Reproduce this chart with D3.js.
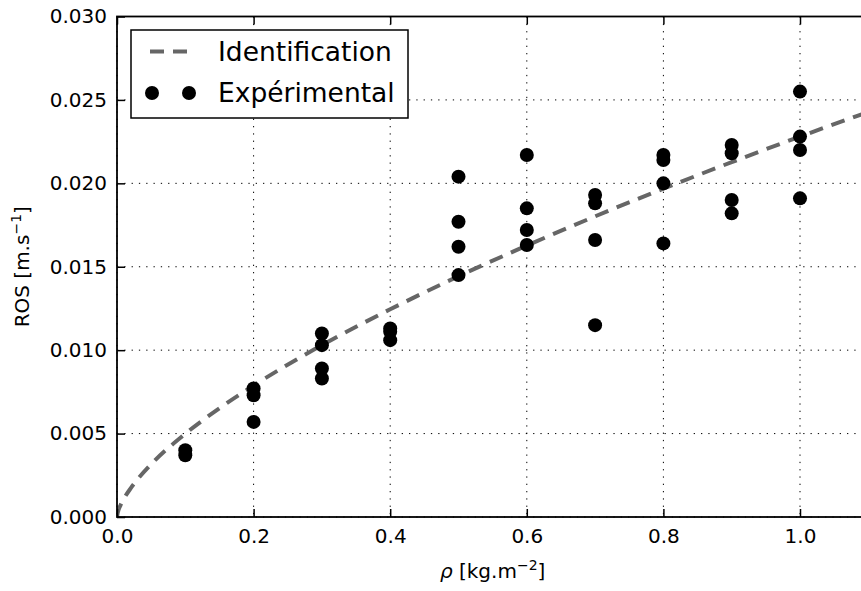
<!DOCTYPE html>
<html>
<head>
<meta charset="utf-8">
<script src="https://cdn.jsdelivr.net/npm/d3@7/dist/d3.min.js"></script>
<style>
  html, body { margin: 0; padding: 0; background: #fff; }
  svg { display: block; font-family: "DejaVu Sans", sans-serif; }
</style>
</head>
<body>
<svg id="chart" width="861" height="591"></svg>
<script>
// ---- data ----
const expX = [0.1, 0.1,
  0.2, 0.2, 0.2,
  0.3, 0.3, 0.3, 0.3,
  0.4, 0.4, 0.4,
  0.5, 0.5, 0.5, 0.5,
  0.6, 0.6, 0.6, 0.6,
  0.7, 0.7, 0.7, 0.7,
  0.8, 0.8, 0.8, 0.8,
  0.9, 0.9, 0.9, 0.9,
  1.0, 1.0, 1.0, 1.0];
const expY = [0.0040, 0.0037,
  0.0077, 0.0073, 0.0057,
  0.0110, 0.0103, 0.0089, 0.0083,
  0.0113, 0.0111, 0.0106,
  0.0204, 0.0177, 0.0162, 0.0145,
  0.0217, 0.0185, 0.0172, 0.0163,
  0.0193, 0.0188, 0.0166, 0.0115,
  0.0217, 0.0214, 0.0200, 0.0164,
  0.0223, 0.0218, 0.0190, 0.0182,
  0.0255, 0.0228, 0.0220, 0.0191];

const idX = [0, 0.001, 0.005, 0.01, 0.02, 0.03, 0.05, 0.1, 0.15, 0.2, 0.3, 0.4, 0.5, 0.6, 0.7, 0.8, 0.9, 1.0, 1.1, 1.2];
const idY = [0, 0.00024, 0.00069, 0.00109, 0.00172, 0.00225, 0.00316, 0.00499, 0.00652, 0.00788, 0.0103, 0.01245, 0.01443, 0.01627, 0.01802, 0.01968, 0.02127, 0.0228, 0.02428, 0.02572];

const xTicks = [0.0, 0.2, 0.4, 0.6, 0.8, 1.0];
const yTicks = [0.000, 0.005, 0.010, 0.015, 0.020, 0.025, 0.030];
const seriesNames = ["Identification", "Expérimental"];

// ---- layout ----
const L = 117, T = 16.5, B = 517;
const R = 117 + 1.1 * 683;

const svg = d3.select("#chart");
const x = d3.scaleLinear().domain([0, 1.1]).range([L, R]);
const y = d3.scaleLinear().domain([0, 0.030]).range([B, T]);

svg.append("defs").append("clipPath").attr("id", "clip")
  .append("rect").attr("x", L).attr("y", T).attr("width", R - L).attr("height", B - T);

// grid
const grid = svg.append("g");
grid.selectAll("line.gx").data(xTicks).join("line")
  .attr("x1", d => x(d)).attr("x2", d => x(d)).attr("y1", T).attr("y2", B)
  .attr("stroke", "#000").attr("stroke-width", 1).attr("stroke-dasharray", "1.3,6");
grid.selectAll("line.gy").data(yTicks).join("line")
  .attr("y1", d => y(d)).attr("y2", d => y(d)).attr("x1", L).attr("x2", R)
  .attr("stroke", "#000").attr("stroke-width", 1).attr("stroke-dasharray", "1.3,6");

// identification curve
const plot = svg.append("g").attr("clip-path", "url(#clip)");
const line = d3.line().x(d => x(d[0])).y(d => y(d[1])).curve(d3.curveMonotoneX);
plot.append("path").datum(d3.zip(idX, idY))
  .attr("d", line).attr("fill", "none")
  .attr("stroke", "#666666").attr("stroke-width", 4)
  .attr("stroke-dasharray", "14,9");

// experimental points
plot.selectAll("circle").data(d3.zip(expX, expY)).join("circle")
  .attr("cx", d => x(d[0])).attr("cy", d => y(d[1])).attr("r", 7).attr("fill", "#000");

// axes (ticks inward, matplotlib classic)
const tickLen = 8;
const axB = d3.axisBottom(x).tickValues(xTicks).tickFormat(d3.format(".1f")).tickSizeInner(-tickLen).tickSizeOuter(0).tickPadding(12);
const axT = d3.axisTop(x).tickValues(xTicks).tickFormat("").tickSizeInner(-tickLen).tickSizeOuter(0);
const axL = d3.axisLeft(y).tickValues(yTicks).tickFormat(d3.format(".3f")).tickSizeInner(-tickLen).tickSizeOuter(0).tickPadding(10);

function style(g) {
  g.select(".domain").remove();
  g.selectAll(".tick line").attr("stroke", "#000").attr("stroke-width", 1.5);
  g.selectAll(".tick text").attr("fill", "#000").attr("font-size", 20).attr("font-family", "DejaVu Sans");
}
svg.append("g").attr("transform", `translate(0,${B})`).call(axB).call(style);
svg.append("g").attr("transform", `translate(0,${T})`).call(axT).call(style);
svg.append("g").attr("transform", `translate(${L},0)`).call(axL).call(style);

// spines
svg.append("rect").attr("x", L).attr("y", T).attr("width", R - L).attr("height", B - T)
  .attr("fill", "none").attr("stroke", "#000").attr("stroke-width", 1.8);

// axis labels
const xl = svg.append("text").attr("x", (L + R) / 2).attr("y", 578)
  .attr("text-anchor", "middle").attr("font-size", 20).attr("fill", "#000");
xl.append("tspan").attr("font-style", "italic").text("ρ");
xl.append("tspan").text(" [kg.m");
xl.append("tspan").attr("font-size", 14).attr("dy", -8).text("−2");
xl.append("tspan").attr("dy", 8).text("]");

const yl = svg.append("text")
  .attr("transform", `translate(29,${(T + B) / 2}) rotate(-90)`)
  .attr("text-anchor", "middle").attr("font-size", 20).attr("fill", "#000");
yl.append("tspan").text("ROS [m.s");
yl.append("tspan").attr("font-size", 14).attr("dy", -8).text("−1");
yl.append("tspan").attr("dy", 8).text("]");

// legend
const lg = svg.append("g");
lg.append("rect").attr("x", 131).attr("y", 30).attr("width", 277).attr("height", 88)
  .attr("fill", "#fff").attr("stroke", "#000").attr("stroke-width", 1.5);
lg.append("line").attr("x1", 150).attr("x2", 192).attr("y1", 51.5).attr("y2", 51.5)
  .attr("stroke", "#666666").attr("stroke-width", 4).attr("stroke-dasharray", "14,9");
lg.selectAll("circle").data([152, 189]).join("circle")
  .attr("cx", d => d).attr("cy", 93).attr("r", 7).attr("fill", "#000");
lg.selectAll("text").data(seriesNames).join("text")
  .attr("x", 218).attr("y", (d, i) => 51.5 + i * 41.5).attr("dy", "0.35em")
  .attr("font-size", 26.5).attr("fill", "#000").text(d => d);
</script>
</body>
</html>
